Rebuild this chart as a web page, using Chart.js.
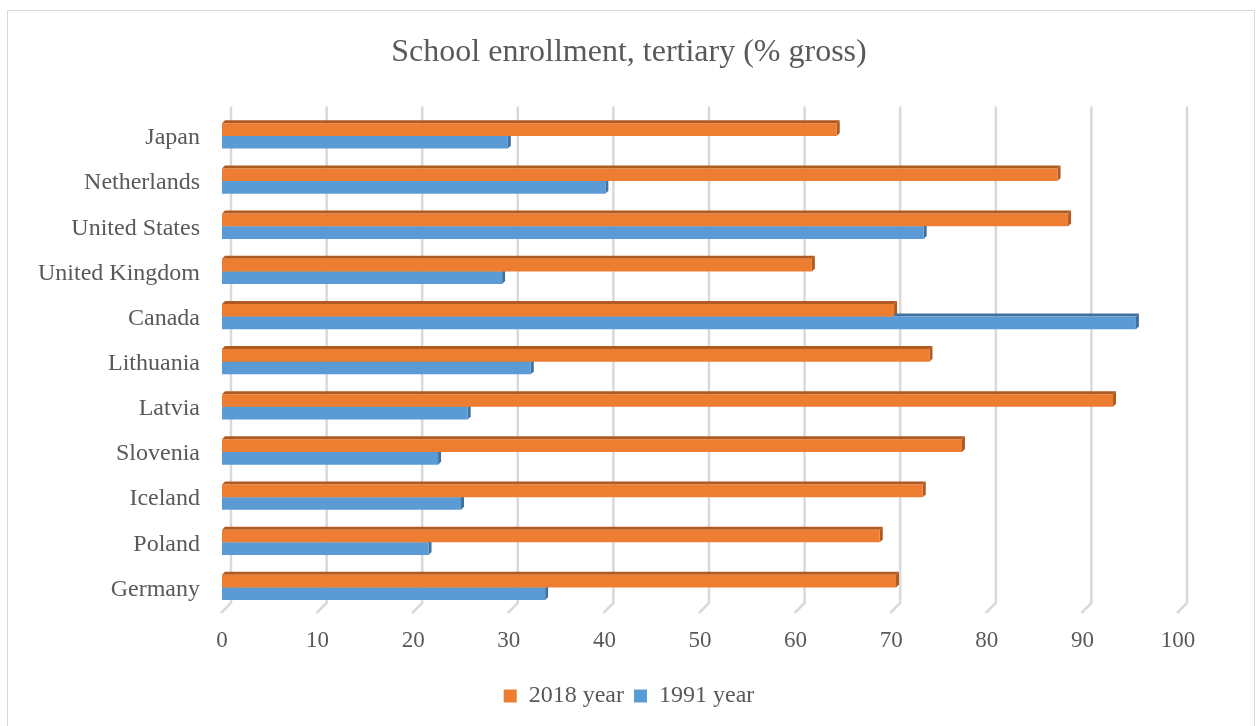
<!DOCTYPE html>
<html>
<head>
<meta charset="utf-8">
<script src="https://cdn.jsdelivr.net/npm/chart.js@4.4.1/dist/chart.umd.min.js"></script>
<style>
  html, body { margin: 0; padding: 0; background: #fff; }
  #frame { position: absolute; left: 7px; top: 10px; width: 1246px; height: 730px; border: 1px solid #D9D9D9; }
  #wrap { position: absolute; left: 0; top: 0; width: 1258px; height: 726px; }
</style>
</head>
<body>
<div id="frame"></div>
<div id="wrap"><canvas id="enrollChart"></canvas></div>
<script>
const countries = [
  "Japan",
  "Netherlands",
  "United States",
  "United Kingdom",
  "Canada",
  "Lithuania",
  "Latvia",
  "Slovenia",
  "Iceland",
  "Poland",
  "Germany",
];
const year2018 = [64.3, 87.4, 88.5, 61.7, 70.3, 74.0, 93.2, 77.4, 73.3, 68.8, 70.5];
const year1991 = [29.9, 40.1, 73.4, 29.3, 95.6, 32.3, 25.7, 22.6, 25.0, 21.6, 33.8];
const xTicks = [0, 10, 20, 30, 40, 50, 60, 70, 80, 90, 100];

const textColor = "#595959";
const serif = "'Liberation Serif', 'Times New Roman', serif";

// fake excel 3d look: back-wall grid and bar side/top faces
const depthPlugin = {
  id: "depth",
  beforeDatasetsDraw(chart) {
    const ctx = chart.ctx;
    const x = chart.scales.x;
    const area = chart.chartArea;
    ctx.save();
    ctx.strokeStyle = "#D9D9D9";
    ctx.lineWidth = 2.5;
    xTicks.forEach((v) => {
      const px = x.getPixelForValue(v);
      ctx.beginPath();
      ctx.moveTo(px + 9, area.top - 7);
      ctx.lineTo(px + 9, area.bottom - 7);
      ctx.lineTo(px - 1, area.bottom + 3);
      ctx.stroke();
    });
    const d = 3;
    const dark = ["#AE5A21", "#41719C"];
    chart.data.datasets.forEach((ds, i) => {
      chart.getDatasetMeta(i).data.forEach((bar) => {
        const p = bar.getProps(["x", "y", "base", "height"], true);
        const top = p.y - p.height / 2;
        const bottom = p.y + p.height / 2;
        ctx.fillStyle = dark[i];
        ctx.beginPath();
        ctx.moveTo(p.base, top);
        ctx.lineTo(p.x, top);
        ctx.lineTo(p.x + d, top - d);
        ctx.lineTo(p.base + d, top - d);
        ctx.closePath();
        ctx.fill();
        ctx.beginPath();
        ctx.moveTo(p.x, top);
        ctx.lineTo(p.x + d, top - d);
        ctx.lineTo(p.x + d, bottom - d);
        ctx.lineTo(p.x, bottom);
        ctx.closePath();
        ctx.fill();
      });
    });
    ctx.restore();
  },
};

new Chart(document.getElementById("enrollChart"), {
  type: "bar",
  data: {
    labels: countries,
    datasets: [
      {
        label: "2018 year",
        data: year2018,
        backgroundColor: "#ED7D31",
        categoryPercentage: 0.56,
        barPercentage: 1,
      },
      {
        label: "1991 year",
        data: year1991,
        backgroundColor: "#5B9BD5",
        categoryPercentage: 0.56,
        barPercentage: 1,
      },
    ],
  },
  options: {
    indexAxis: "y",
    responsive: true,
    maintainAspectRatio: false,
    animation: false,
    layout: {
      padding: { left: 0, right: 0, top: 0, bottom: 8 },
    },
    plugins: {
      title: {
        display: true,
        text: "School enrollment, tertiary (% gross)",
        color: textColor,
        font: { family: serif, size: 32, weight: "normal" },
        padding: { top: 33, bottom: 42 },
      },
      legend: {
        position: "bottom",
        labels: {
          color: textColor,
          font: { family: serif, size: 24 },
          boxWidth: 13,
          boxHeight: 13,
          padding: 10,
        },
      },
      tooltip: { enabled: false },
    },
    scales: {
      x: {
        min: 0,
        max: 100,
        grid: { display: false, drawTicks: false },
        border: { display: false },
        ticks: {
          stepSize: 10,
          color: textColor,
          font: { family: serif, size: 23 },
          padding: 17,
        },
        afterFit(scale) {
          scale.height = 64;
        },
      },
      y: {
        grid: { display: false, drawTicks: false },
        border: { display: false },
        ticks: {
          color: textColor,
          font: { family: serif, size: 24 },
          padding: 22,
          labelOffset: 2,
        },
        afterFit(scale) {
          scale.width = 222;
        },
      },
      // empty right-hand axis, only keeps room on the right of the plot
      yRight: {
        type: "category",
        position: "right",
        grid: { display: false, drawTicks: false },
        border: { display: false },
        ticks: { display: false },
        afterFit(scale) {
          scale.width = 80;
        },
      },
    },
  },
  plugins: [depthPlugin],
});
</script>
</body>
</html>
